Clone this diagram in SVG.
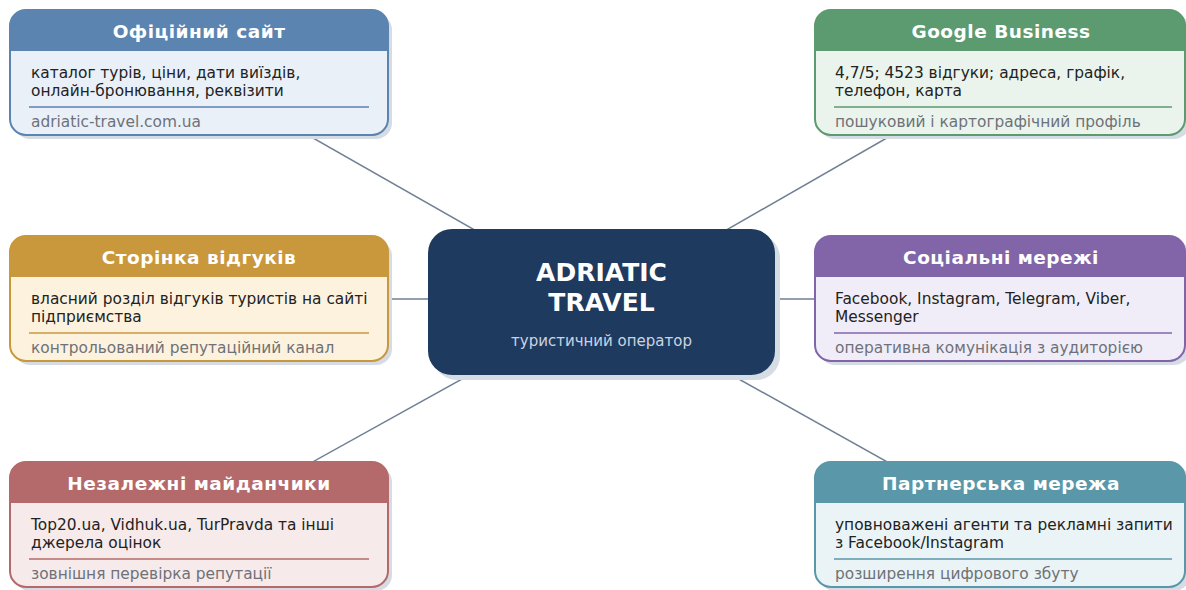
<svg xmlns="http://www.w3.org/2000/svg" width="1186" height="590" viewBox="0 0 1186 590">
<style>
.conn{stroke:#6f7f95;stroke-width:1.5;fill:none}
.shadow{fill:#d6dce4}
.title{font-family:"DejaVu Sans",sans-serif;font-weight:bold;font-size:18.5px;fill:#ffffff;text-anchor:middle;letter-spacing:0.5px}
.body{font-family:"DejaVu Sans",sans-serif;font-size:15.4px;fill:#222222}
.foot{font-family:"DejaVu Sans",sans-serif;font-size:15.4px;fill:#6e7278}
.ctitle{font-family:"DejaVu Sans",sans-serif;font-weight:bold;font-size:25px;fill:#ffffff;text-anchor:middle}
.csub{font-family:"DejaVu Sans",sans-serif;font-size:15px;fill:#c9d4e2;text-anchor:middle}
.sep{stroke-width:1.4}
</style>
<rect width="1186" height="590" fill="#ffffff"/>
<g id="connectors">
<line class="conn" x1="601" y1="302" x2="199" y2="73"/>
<line class="conn" x1="601" y1="302" x2="1000" y2="73"/>
<line class="conn" x1="601" y1="299" x2="199" y2="299"/>
<line class="conn" x1="601" y1="299" x2="1000" y2="299"/>
<line class="conn" x1="601" y1="302" x2="199" y2="525"/>
<line class="conn" x1="601" y1="302" x2="1000" y2="525"/>
</g>

<g id="center">
<rect class="shadow" x="433" y="234" width="347" height="146" rx="24"/>
<rect x="428" y="229" width="347" height="146" rx="24" fill="#1f3a5f"/>
<text class="ctitle" x="601.5" y="281">ADRIATIC</text>
<text class="ctitle" x="601.5" y="311">TRAVEL</text>
<text class="csub" x="601.5" y="346">туристичний оператор</text>
</g>

<g id="site">
<rect class="shadow" x="14" y="14" width="378" height="125" rx="16"/>
<rect x="10" y="10" width="378" height="125" rx="16" fill="#e9f0f8" stroke="#5b84b1" stroke-width="2"/>
<path d="M10,51 V26 A16,16 0 0 1 26,10 H372 A16,16 0 0 1 388,26 V51 Z" fill="#5b84b1"/>
<text class="title" x="199" y="38">Офіційний сайт</text>
<text class="body" x="31" y="78">каталог турів, ціни, дати виїздів,</text>
<text class="body" x="31" y="96">онлайн-бронювання, реквізити</text>
<line class="sep" x1="29" y1="107" x2="369" y2="107" stroke="#5b84b1"/>
<text class="foot" x="31" y="127">adriatic-travel.com.ua</text>
</g>

<g id="google">
<rect class="shadow" x="819" y="14" width="371" height="125" rx="16"/>
<rect x="815" y="10" width="370" height="125" rx="16" fill="#eaf4ed" stroke="#5c9a70" stroke-width="2"/>
<path d="M815,51 V26 A16,16 0 0 1 831,10 H1169 A16,16 0 0 1 1185,26 V51 Z" fill="#5c9a70"/>
<text class="title" x="1001" y="38">Google Business</text>
<text class="body" x="835" y="78">4,7/5; 4523 відгуки; адреса, графік,</text>
<text class="body" x="835" y="96">телефон, карта</text>
<line class="sep" x1="834" y1="107" x2="1172" y2="107" stroke="#5c9a70"/>
<text class="foot" x="835" y="127">пошуковий і картографічний профіль</text>
</g>

<g id="reviews">
<rect class="shadow" x="14" y="240" width="378" height="125" rx="16"/>
<rect x="10" y="236" width="378" height="125" rx="16" fill="#fdf2de" stroke="#c9973c" stroke-width="2"/>
<path d="M10,277 V252 A16,16 0 0 1 26,236 H372 A16,16 0 0 1 388,252 V277 Z" fill="#c9973c"/>
<text class="title" x="199" y="264">Сторінка відгуків</text>
<text class="body" x="31" y="304">власний розділ відгуків туристів на сайті</text>
<text class="body" x="31" y="322">підприємства</text>
<line class="sep" x1="29" y1="333" x2="369" y2="333" stroke="#c9973c"/>
<text class="foot" x="31" y="353">контрольований репутаційний канал</text>
</g>

<g id="social">
<rect class="shadow" x="819" y="240" width="371" height="125" rx="16"/>
<rect x="815" y="236" width="370" height="125" rx="16" fill="#f1edf8" stroke="#8165a8" stroke-width="2"/>
<path d="M815,277 V252 A16,16 0 0 1 831,236 H1169 A16,16 0 0 1 1185,252 V277 Z" fill="#8165a8"/>
<text class="title" x="1001" y="264">Соціальні мережі</text>
<text class="body" x="835" y="304">Facebook, Instagram, Telegram, Viber,</text>
<text class="body" x="835" y="322">Messenger</text>
<line class="sep" x1="834" y1="333" x2="1172" y2="333" stroke="#8165a8"/>
<text class="foot" x="835" y="353">оперативна комунікація з аудиторією</text>
</g>

<g id="independent">
<rect class="shadow" x="14" y="466" width="378" height="125" rx="16"/>
<rect x="10" y="462" width="378" height="125" rx="16" fill="#f7eaea" stroke="#b46a6a" stroke-width="2"/>
<path d="M10,503 V478 A16,16 0 0 1 26,462 H372 A16,16 0 0 1 388,478 V503 Z" fill="#b46a6a"/>
<text class="title" x="199" y="490">Незалежні майданчики</text>
<text class="body" x="31" y="530">Top20.ua, Vidhuk.ua, TurPravda та інші</text>
<text class="body" x="31" y="548">джерела оцінок</text>
<line class="sep" x1="29" y1="559" x2="369" y2="559" stroke="#b46a6a"/>
<text class="foot" x="31" y="579">зовнішня перевірка репутації</text>
</g>

<g id="partners">
<rect class="shadow" x="819" y="466" width="371" height="125" rx="16"/>
<rect x="815" y="462" width="370" height="125" rx="16" fill="#eaf4f6" stroke="#5a97a8" stroke-width="2"/>
<path d="M815,503 V478 A16,16 0 0 1 831,462 H1169 A16,16 0 0 1 1185,478 V503 Z" fill="#5a97a8"/>
<text class="title" x="1001" y="490">Партнерська мережа</text>
<text class="body" x="835" y="530">уповноважені агенти та рекламні запити</text>
<text class="body" x="835" y="548">з Facebook/Instagram</text>
<line class="sep" x1="834" y1="559" x2="1172" y2="559" stroke="#5a97a8"/>
<text class="foot" x="835" y="579">розширення цифрового збуту</text>
</g>
</svg>
